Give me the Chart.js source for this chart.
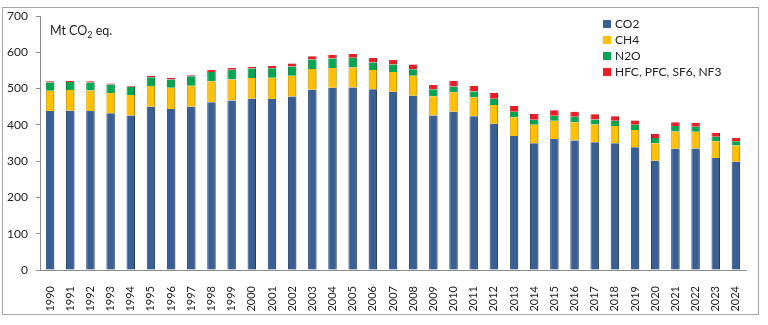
<!DOCTYPE html>
<html>
<head>
<meta charset="utf-8">
<script src="https://cdn.jsdelivr.net/npm/chart.js@4.4.1/dist/chart.umd.min.js"></script>
<style>
  html, body { margin: 0; padding: 0; background: #fff; }
  #wrap { position: relative; width: 768px; height: 325px; font-family: Lato, "Liberation Sans", Arial, sans-serif; }
  #frame { position: absolute; left: 2px; top: 7px; width: 757px; height: 308px; border: 1px solid #a6a6a6; box-sizing: border-box; }
  #cv { position: absolute; left: 0; top: 0; }
  #unit { position: absolute; left: 50px; top: 23px; font-size: 12.5px; color: #222; }
  #unit sub { font-size: 9px; vertical-align: -3px; line-height: 0; }
  #legend { position: absolute; left: 603px; top: 16px; font-size: 12px; color: #222; }
  .li { height: 16px; line-height: 16px; white-space: nowrap; }
  .sw { display: inline-block; width: 8px; height: 8px; margin-right: 4px; vertical-align: 0px; }
</style>
</head>
<body>
<div id="wrap">
  <div id="frame"></div>
  <canvas id="cv" width="768" height="325"></canvas>
  <div id="unit">Mt CO<sub>2</sub> eq.</div>
  <div id="legend"></div>
</div>
<script>
const years = ["1990","1991","1992","1993","1994","1995","1996","1997","1998","1999",
  "2000","2001","2002","2003","2004","2005","2006","2007","2008","2009",
  "2010","2011","2012","2013","2014","2015","2016","2017","2018","2019",
  "2020","2021","2022","2023","2024"];
const co2 = [438,439,438,432,426,450,444,450,462,467,
  472,471,478,497,502,503,498,491,480,426,
  436,424,403,369,349,361,357,352,349,338,
  301,334,335,309,298];
const ch4 = [56,57,57,56,56,57,58,58,58,58,
  57,59,57,57,55,55,53,55,55,53,
  54,52,52,52,51,50,50,49,48,48,
  48,48,46,46,45];
const n2o = [23,22,22,23,23,24,23,26,26,27,
  26,26,26,26,26,27,21,20,18,19,
  16,16,17,15,14,14,15,14,14,14,
  15,15,14,12,12];
const fgas = [3,3,3,3,3,4,4,3,5,5,
  5,6,8,9,10,10,12,13,13,12,
  15,16,16,16,16,15,14,14,13,12,
  11,10,11,11,9];
const seriesNames = ["CO2", "CH4", "N2O", "HFC, PFC, SF6, NF3"];
const yTicks = [0,100,200,300,400,500,600,700];

const fills = ["#3a5f94", "#ffc000", "#00a650", "#ea1c24"];
const edges = ["#27456f", "#d69e00", "#00813c", "#b5121a"];
const seriesData = [co2, ch4, n2o, fgas];

const datasets = seriesNames.map((name, i) => ({
  label: name,
  data: seriesData[i],
  backgroundColor: fills[i],
  borderColor: edges[i],
  borderWidth: {left: 1, right: 1, top: 0, bottom: 0},
  borderSkipped: false,
  barPercentage: 0.42,
  categoryPercentage: 1.0
}));

const lg = document.getElementById('legend');
seriesNames.forEach((n, i) => {
  const d = document.createElement('div');
  d.className = 'li';
  d.innerHTML = '<span class="sw" style="background:' + fills[i] + '"></span>' + n;
  lg.appendChild(d);
});

const shadowPlugin = {
  id: 'shadow',
  beforeDatasetsDraw(chart) {
    const c = chart.ctx;
    c.save();
    c.shadowColor = 'rgba(0,0,0,0.22)';
    c.shadowOffsetX = 1.5;
    c.shadowOffsetY = 0;
    c.shadowBlur = 2;
  },
  afterDatasetsDraw(chart) {
    chart.ctx.restore();
  }
};

new Chart(document.getElementById('cv'), {
  type: 'bar',
  data: { labels: years, datasets },
  plugins: [shadowPlugin],
  options: {
    responsive: false,
    animation: false,
    devicePixelRatio: 1,
    layout: { padding: { top: 16, right: 22, bottom: 0, left: 0 } },
    plugins: { legend: { display: false }, tooltip: { enabled: false }, title: { display: false } },
    scales: {
      x: {
        stacked: true,
        grid: { display: false },
        border: { display: true, color: '#8c8c8c', width: 1 },
        ticks: {
          minRotation: 90, maxRotation: 90, autoSkip: false, padding: 8,
          color: '#222', font: { family: 'Lato', size: 11 }
        },
        afterFit(s) { s.height = 55; }
      },
      y: {
        stacked: true,
        min: 0, max: 700,
        afterBuildTicks(s) { s.ticks = yTicks.map(v => ({ value: v })); },
        grid: { drawOnChartArea: false, drawTicks: true, tickLength: 4, color: '#8c8c8c' },
        border: { display: true, color: '#8c8c8c', width: 1 },
        ticks: { padding: 8, color: '#222', font: { family: 'Lato', size: 12 } },
        afterFit(s) { s.width = 40; }
      }
    }
  }
});
</script>
</body>
</html>
